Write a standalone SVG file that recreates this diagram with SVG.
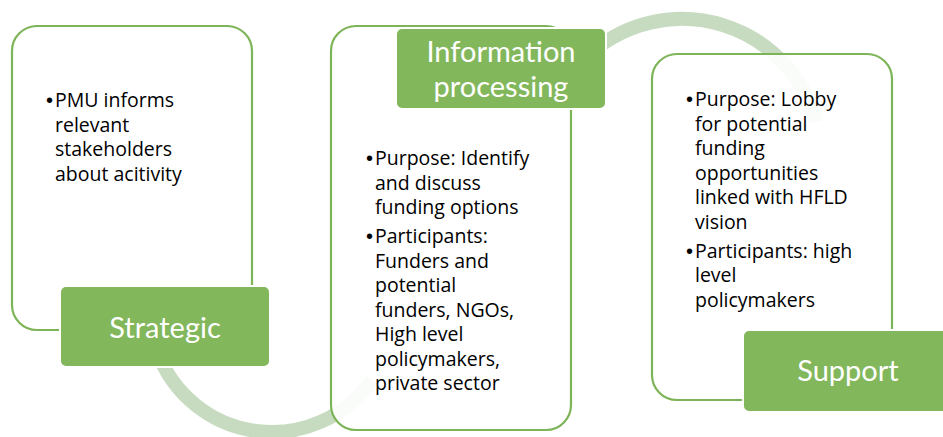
<svg xmlns="http://www.w3.org/2000/svg" width="943" height="437" viewBox="0 0 943 437">
<style>
.box{fill:#ffffff;fill-opacity:0.9;stroke:#7db458;stroke-width:2.2}
.lbl{fill:#82b75c;stroke:#ffffff;stroke-width:2}
.lt{font-family:Lato,"Open Sans","Liberation Sans",sans-serif;font-size:29px;fill:#ffffff;text-anchor:middle}
.bt{font-family:"Open Sans","Liberation Sans",sans-serif;font-size:19.5px;fill:#000000}
.bu{font-family:"Liberation Sans",sans-serif;font-size:20px;fill:#000000}
.arc{fill:none;stroke:#c6dbbf;stroke-width:14}
</style>
<rect width="943" height="437" fill="#ffffff"/>
<g id="connectors">
<path class="arc" d="M 157.4 351.7 A 122 122 0 0 0 372 380"/>
<path class="arc" d="M 592.6 51.5 A 139 139 0 0 1 816.3 122"/>
</g>
<g id="node-strategic">
<rect class="box" x="12" y="26" width="240" height="304" rx="25"/>
<text class="bu" x="46" y="107">•</text>
<text class="bt" x="55" y="107">PMU informs</text>
<text class="bt" x="55" y="131.5">relevant</text>
<text class="bt" x="55" y="156">stakeholders</text>
<text class="bt" x="55" y="180.5">about acitivity</text>
<rect class="lbl" x="60" y="286" width="210" height="81" rx="6"/>
<text class="lt" x="165" y="338">Strategic</text>
</g>
<g id="node-information">
<rect class="box" x="331" y="26" width="240" height="404" rx="25"/>
<text class="bu" x="366" y="165">•</text>
<text class="bt" x="375" y="165">Purpose: Identify</text>
<text class="bt" x="375" y="189.5">and discuss</text>
<text class="bt" x="375" y="214">funding options</text>
<text class="bu" x="366" y="243">•</text>
<text class="bt" x="375" y="243">Participants:</text>
<text class="bt" x="375" y="267.5">Funders and</text>
<text class="bt" x="375" y="292">potential</text>
<text class="bt" x="375" y="316.5">funders, NGOs,</text>
<text class="bt" x="375" y="341">High level</text>
<text class="bt" x="375" y="365.5">policymakers,</text>
<text class="bt" x="375" y="390">private sector</text>
<rect class="lbl" x="396" y="28" width="210" height="81" rx="6"/>
<text class="lt" x="501" y="62">Information</text>
<text class="lt" x="501" y="97">processing</text>
</g>
<g id="node-support">
<rect class="box" x="652" y="54" width="240" height="346" rx="25"/>
<text class="bu" x="686" y="106">•</text>
<text class="bt" x="695" y="106">Purpose: Lobby</text>
<text class="bt" x="695" y="130.5">for potential</text>
<text class="bt" x="695" y="155">funding</text>
<text class="bt" x="695" y="179.5">opportunities</text>
<text class="bt" x="695" y="204">linked with HFLD</text>
<text class="bt" x="695" y="228.5">vision</text>
<text class="bu" x="686" y="257.5">•</text>
<text class="bt" x="695" y="257.5">Participants: high</text>
<text class="bt" x="695" y="282">level</text>
<text class="bt" x="695" y="306.5">policymakers</text>
<rect class="lbl" x="743" y="330" width="210" height="82" rx="6"/>
<text class="lt" x="848" y="381">Support</text>
</g>
</svg>
